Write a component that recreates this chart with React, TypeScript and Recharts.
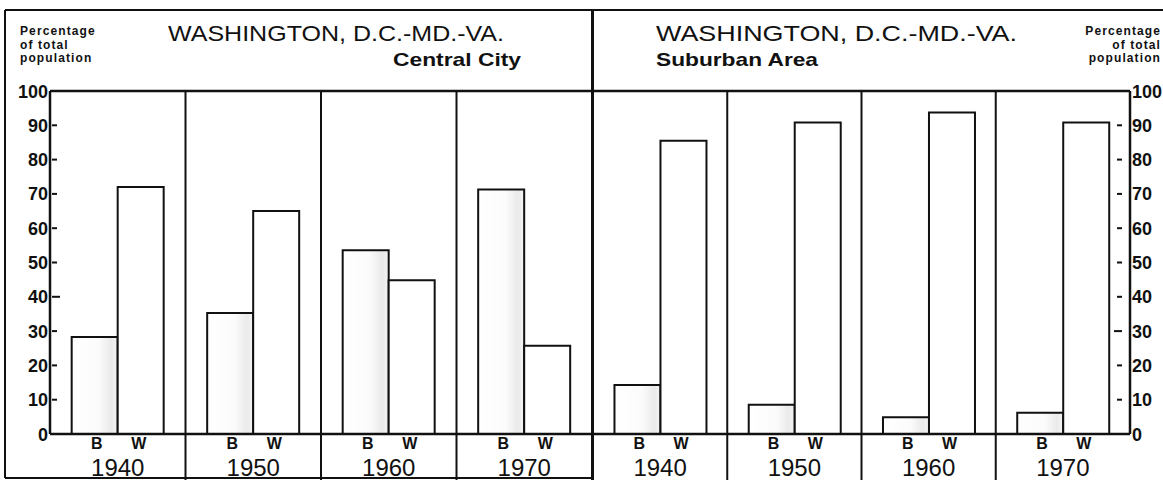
import React from 'react';
import { BarChart, Bar, XAxis, YAxis } from 'recharts';

// ---- data ----
const years = ['1940', '1950', '1960', '1970'];
const centralBlack = [28.3, 35.3, 53.6, 71.3];
const centralWhite = [72, 65, 44.8, 25.7];
const suburbBlack = [14.3, 8.5, 4.9, 6.2];
const suburbWhite = [85.5, 90.8, 93.7, 90.8];
const yTicks = [0, 10, 20, 30, 40, 50, 60, 70, 80, 90, 100];

const titleText = 'WASHINGTON, D.C.-MD.-VA.';
const centralLabel = 'Central City';
const suburbLabel = 'Suburban Area';
const yLabelLines = ['Percentage', 'of total', 'population'];

const centralData = years.map((y, i) => ({ year: y, B: centralBlack[i], W: centralWhite[i] }));
const suburbData = years.map((y, i) => ({ year: y, B: suburbBlack[i], W: suburbWhite[i] }));

// ---- layout ----
const FONT = '"Liberation Sans", Arial, Helvetica, sans-serif';
const INK = '#111';
const TOP = 91;
const BASE = 434;
const L_X0 = 50;
const L_X1 = 592;
const R_X0 = 593;
const R_X1 = 1130;
const GAP = 0.16;

const bandL = (L_X1 - L_X0) / years.length;
const bandR = (R_X1 - R_X0) / years.length;
const bwL = (bandL * (1 - 2 * GAP)) / 2;
const bwR = (bandR * (1 - 2 * GAP)) / 2;

const makeXTick = (bw: number) => (props: any) => {
  const { x, payload } = props;
  return (
    <g>
      <text x={x - bw / 2 + 2} y={449} textAnchor="middle" fontFamily={FONT} fontWeight="bold" fontSize={16} fill={INK}>B</text>
      <text x={x + bw / 2 - 2} y={449} textAnchor="middle" fontFamily={FONT} fontWeight="bold" fontSize={16} fill={INK}>W</text>
      <text x={x} y={476} textAnchor="middle" fontFamily={FONT} fontSize={24} fill={INK}>{payload.value}</text>
    </g>
  );
};

const LeftTick = (props: any) => {
  const { x, y, payload } = props;
  const v = payload.value;
  const showDash = v !== 0 && v !== 100;
  return (
    <g>
      <text x={x} y={y + 6.5} textAnchor="end" fontFamily={FONT} fontWeight="bold" fontSize={18} fill={INK}>{v}</text>
      {showDash && <line x1={x + 4} x2={v === 40 ? x + 12 : x + 9} y1={y} y2={y} stroke={INK} strokeWidth={2} />}
    </g>
  );
};

const RightTick = (props: any) => {
  const { x, y, payload } = props;
  const v = payload.value;
  const showDash = v !== 0 && v !== 100;
  return (
    <g>
      <text x={x} y={y + 6.5} textAnchor="start" fontFamily={FONT} fontWeight="bold" fontSize={18} fill={INK}>{v}</text>
      {showDash && <line x1={v === 30 ? x - 18 : x - 15} x2={x - 10} y1={y} y2={y} stroke={INK} strokeWidth={2} />}
    </g>
  );
};

const Shade = ({ id }: { id: string }) => (
  <defs>
    <linearGradient id={id} x1="0" y1="0" x2="1" y2="0">
      <stop offset="0%" stopColor="#ffffff" />
      <stop offset="60%" stopColor="#fbfbfb" />
      <stop offset="86%" stopColor="#eaeaea" />
      <stop offset="100%" stopColor="#f4f4f4" />
    </linearGradient>
  </defs>
);

export default function App() {
  const leftDividers = [1, 2, 3].map((i) => L_X0 + bandL * i);
  const rightDividers = [1, 2, 3].map((i) => R_X0 + bandR * i);
  return (
    <div style={{ position: 'absolute', left: 0, top: 0, width: 1163, height: 480, background: '#fff', overflow: 'hidden' }}>
      <div style={{ position: 'absolute', left: 0, top: 0 }}>
        <BarChart width={L_X1 + 1} height={480} data={centralData} margin={{ top: TOP, right: 1, bottom: 0, left: 0 }} barCategoryGap={`${GAP * 100}%`} barGap={0}>
          <Shade id="shadeL" />
          <YAxis width={L_X0} domain={[0, 100]} ticks={yTicks} interval={0} tickSize={0} tickMargin={2} tickLine={false} axisLine={{ stroke: INK, strokeWidth: 2.5 }} tick={<LeftTick />} />
          <XAxis dataKey="year" height={480 - BASE} tickSize={0} tickMargin={0} tickLine={false} axisLine={{ stroke: INK, strokeWidth: 2.5 }} tick={makeXTick(bwL)} interval={0} />
          <Bar dataKey="B" fill="url(#shadeL)" stroke={INK} strokeWidth={2} isAnimationActive={false} />
          <Bar dataKey="W" fill="#fff" stroke={INK} strokeWidth={2} isAnimationActive={false} />
        </BarChart>
      </div>
      <div style={{ position: 'absolute', left: R_X0, top: 0 }}>
        <BarChart width={1163 - R_X0} height={480} data={suburbData} margin={{ top: TOP, right: 0, bottom: 0, left: 0 }} barCategoryGap={`${GAP * 100}%`} barGap={0}>
          <Shade id="shadeR" />
          <YAxis orientation="right" width={1163 - R_X1} domain={[0, 100]} ticks={yTicks} interval={0} tickSize={0} tickMargin={2} tickLine={false} axisLine={{ stroke: INK, strokeWidth: 2.5 }} tick={<RightTick />} />
          <XAxis dataKey="year" height={480 - BASE} tickSize={0} tickMargin={0} tickLine={false} axisLine={{ stroke: INK, strokeWidth: 2.5 }} tick={makeXTick(bwR)} interval={0} />
          <Bar dataKey="B" fill="url(#shadeR)" stroke={INK} strokeWidth={2} isAnimationActive={false} />
          <Bar dataKey="W" fill="#fff" stroke={INK} strokeWidth={2} isAnimationActive={false} />
        </BarChart>
      </div>
      <svg width={1163} height={480} style={{ position: 'absolute', left: 0, top: 0, pointerEvents: 'none' }}>
        {/* outer frame */}
        <line x1={5} y1={10} x2={1163} y2={10} stroke={INK} strokeWidth={2} />
        <line x1={5} y1={10} x2={5} y2={478} stroke={INK} strokeWidth={2} />
        <line x1={5} y1={478} x2={592} y2={478} stroke={INK} strokeWidth={2} />
        {/* panel divider */}
        <line x1={592.5} y1={10} x2={592.5} y2={480} stroke={INK} strokeWidth={3} />
        {/* plot top */}
        <line x1={L_X0} y1={TOP} x2={R_X1} y2={TOP} stroke={INK} strokeWidth={2.5} />
        {/* decade dividers */}
        {leftDividers.concat(rightDividers).map((x, i) => (
          <line key={i} x1={x} y1={TOP} x2={x} y2={480} stroke={INK} strokeWidth={2} />
        ))}
        {/* header text: left */}
        {yLabelLines.map((t, i) => (
          <text key={'l' + i} x={20} y={35 + i * 13.5} fontFamily={FONT} fontWeight="bold" fontSize={12} letterSpacing={1.1} fill={INK}>{t}</text>
        ))}
        <text x={168} y={41} fontFamily={FONT} fontSize={22} textLength={336} lengthAdjust="spacingAndGlyphs" fill={INK}>{titleText}</text>
        <text x={393} y={66} fontFamily={FONT} fontWeight="bold" fontSize={19} textLength={128} lengthAdjust="spacingAndGlyphs" fill={INK}>{centralLabel}</text>
        {/* header text: right */}
        <text x={656} y={41} fontFamily={FONT} fontSize={22} textLength={361} lengthAdjust="spacingAndGlyphs" fill={INK}>{titleText}</text>
        <text x={656} y={66} fontFamily={FONT} fontWeight="bold" fontSize={19} textLength={162} lengthAdjust="spacingAndGlyphs" fill={INK}>{suburbLabel}</text>
        {yLabelLines.map((t, i) => (
          <text key={'r' + i} x={1161} y={35 + i * 13.5} textAnchor="end" fontFamily={FONT} fontWeight="bold" fontSize={12} letterSpacing={1.1} fill={INK}>{t}</text>
        ))}
      </svg>
    </div>
  );
}
